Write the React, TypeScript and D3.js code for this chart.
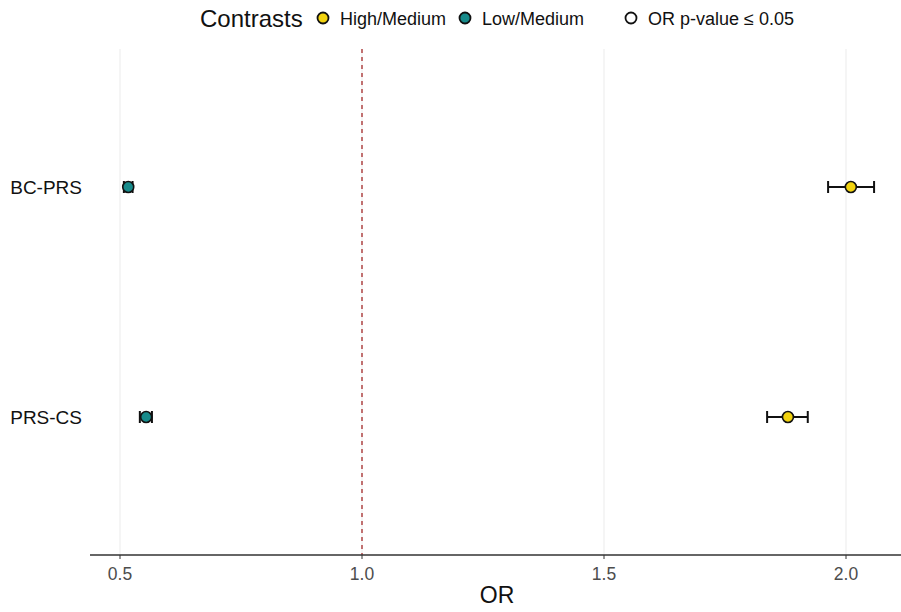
import React from "react";
import * as d3 from "d3";

const W = 901;
const H = 612;

// Polygenic risk scores on the y axis
const scores = ["BC-PRS", "PRS-CS"];
// Contrast groups
const contrasts = ["High/Medium", "Low/Medium"];
const contrastColors = ["#f2d30f", "#178b8b"];

// Odds ratios with 95% CI, per score (rows) and contrast (columns)
const orHigh = [2.01, 1.88];
const loHigh = [1.963, 1.837];
const hiHigh = [2.058, 1.921];
const orLow = [0.517, 0.554];
const loLow = [0.508, 0.541];
const hiLow = [0.526, 0.566];
const pSignificant = [true, true];

const xTicks = [0.5, 1.0, 1.5, 2.0];

const FONT = "Arial, 'Liberation Sans', sans-serif";

export default function App() {
  const left = 90;
  const right = 901;
  const top = 49;
  const bottom = 555;

  const x = d3.scaleLinear().domain([0.5, 2.0]).range([120, 846]);
  const y = d3
    .scaleLinear()
    .domain([-0.6, scores.length - 1 + 0.6])
    .range([top, bottom]);

  const rows = scores.flatMap((s, i) => [
    { score: s, i, group: 0, or: orHigh[i], lo: loHigh[i], hi: hiHigh[i], sig: pSignificant[i] },
    { score: s, i, group: 1, or: orLow[i], lo: loLow[i], hi: hiLow[i], sig: pSignificant[i] },
  ]);

  const cap = 6;

  return (
    <svg width={W} height={H} style={{ position: "absolute", left: 0, top: 0, background: "#fff" }} fontFamily={FONT}>
      <rect x={0} y={0} width={W} height={H} fill="#fff" />
      {/* vertical grid */}
      {xTicks.map((t) => (
        <line key={"g" + t} x1={x(t)} x2={x(t)} y1={top} y2={bottom} stroke="#ebebeb" strokeWidth={1} />
      ))}
      {/* reference line at OR = 1 */}
      <line x1={x(1)} x2={x(1)} y1={top} y2={bottom} stroke="#a52a2a" strokeWidth={1.3} strokeDasharray="4,4" />
      {/* error bars and points */}
      {rows.map((r, k) => {
        const cy = y(r.i);
        return (
          <g key={k}>
            <line x1={x(r.lo)} x2={x(r.hi)} y1={cy} y2={cy} stroke="#111" strokeWidth={2} />
            <line x1={x(r.lo)} x2={x(r.lo)} y1={cy - cap} y2={cy + cap} stroke="#111" strokeWidth={2} />
            <line x1={x(r.hi)} x2={x(r.hi)} y1={cy - cap} y2={cy + cap} stroke="#111" strokeWidth={2} />
            <circle cx={x(r.or)} cy={cy} r={5.5} fill={contrastColors[r.group]} stroke={r.sig ? "#111" : "none"} strokeWidth={1.6} />
          </g>
        );
      })}
      {/* x axis */}
      <line x1={left} x2={right} y1={bottom} y2={bottom} stroke="#333" strokeWidth={1.5} />
      {xTicks.map((t) => (
        <g key={"t" + t}>
          <line x1={x(t)} x2={x(t)} y1={bottom} y2={bottom + 4} stroke="#333" strokeWidth={1} />
          <text x={x(t)} y={bottom + 25} textAnchor="middle" fontSize={17.5} fill="#4d4d4d">
            {t.toFixed(1)}
          </text>
        </g>
      ))}
      <text x={497} y={603} textAnchor="middle" fontSize={23} fill="#111">
        OR
      </text>
      {/* y axis labels */}
      {scores.map((s, i) => (
        <text key={s} x={82} y={y(i) + 7} textAnchor="end" fontSize={19} fill="#111">
          {s}
        </text>
      ))}
      {/* legend */}
      <text x={200} y={27} fontSize={24} fill="#111">
        Contrasts
      </text>
      {contrasts.map((c, i) => {
        const cx = [323, 465][i];
        return (
          <g key={c}>
            <circle cx={cx} cy={18} r={5.5} fill={contrastColors[i]} stroke="#111" strokeWidth={1.8} />
            <text x={cx + 17} y={25} fontSize={18} fill="#111">
              {c}
            </text>
          </g>
        );
      })}
      <circle cx={631} cy={18} r={5.5} fill="#fff" stroke="#111" strokeWidth={1.8} />
      <text x={648} y={25} fontSize={18} fill="#111">
        OR p-value ≤ 0.05
      </text>
    </svg>
  );
}
